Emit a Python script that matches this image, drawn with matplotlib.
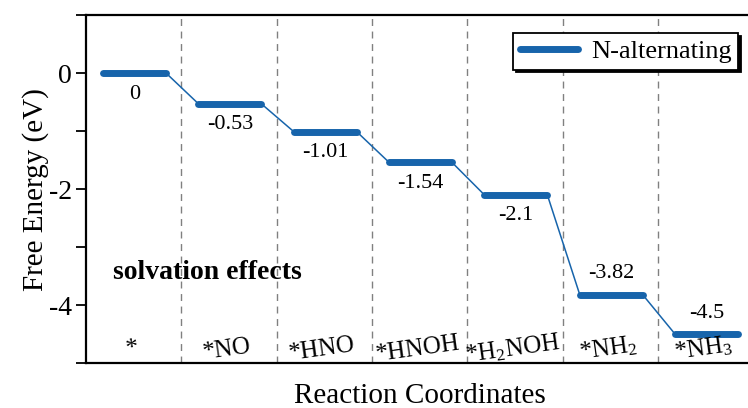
import matplotlib
matplotlib.use('Agg')
import matplotlib.pyplot as plt
from matplotlib.ticker import MultipleLocator

plt.rcParams['font.family'] = ['Liberation Serif', 'DejaVu Serif']
plt.rcParams['mathtext.fontset'] = 'custom'
plt.rcParams['mathtext.rm'] = 'Liberation Serif'
plt.rcParams['mathtext.it'] = 'Liberation Serif:italic'
plt.rcParams['axes.unicode_minus'] = False

# datos del diagrama
especies = ['*', '*NO', '*HNO', '*HNOH', r'*H$_\mathrm{2}$NOH', r'*NH$_\mathrm{2}$', r'*NH$_\mathrm{3}$']
energias = [0, -0.53, -1.01, -1.54, -2.1, -3.82, -4.5]
etiquetas = ['0', '-0.53', '-1.01', '-1.54', '-2.1', '-3.82', '-4.5']
arriba = [False, False, False, False, False, True, True]

azul = '#1764ab'
fig = plt.figure(figsize=(7.48, 4.08), dpi=100)
ax = fig.add_axes([0.115, 0.110, 0.892, 0.853])

x0, x1 = 0.18, 0.84
for i, e in enumerate(energias):
    ax.plot([i + x0, i + x1], [e, e], color=azul, lw=5, solid_capstyle='round',
            label='N-alternating' if i == 0 else None)
    if i < len(energias) - 1:
        ax.plot([i + x1, i + 1 + x0], [e, energias[i + 1]], color=azul, lw=1.1)
    dy = 21 if arriba[i] else -21
    ax.annotate(etiquetas[i], (i + (x0 + x1) / 2, e), xytext=(0, dy), textcoords='offset pixels',
                ha='center', va='center', fontsize=16)
    ax.text(i + (x0 + x1) / 2 - 0.03, -4.76, especies[i], ha='center', va='center',
            fontsize=18, rotation=8)

for k in range(1, len(energias)):
    ax.axvline(k, color='#808080', ls=(0, (5, 4)), lw=1.0, zorder=0)

ax.text(0.28, -3.44, 'solvation effects', fontsize=20, fontweight='bold', ha='left', va='center')

ax.set_xlim(0, 7)
ax.set_ylim(-5, 1)
ax.set_xticks([])
ax.yaxis.set_major_locator(MultipleLocator(2))
ax.yaxis.set_minor_locator(MultipleLocator(1))
ax.tick_params(axis='y', which='major', direction='out', length=7, width=1.3, labelsize=20, pad=3)
ax.tick_params(axis='y', which='minor', direction='out', length=7, width=1.3)
for s in ax.spines.values():
    s.set_linewidth(1.6)

ax.set_ylabel('Free Energy (eV)', fontsize=21, labelpad=0)
ax.set_xlabel('Reaction Coordinates', fontsize=21, labelpad=14)

leg = ax.legend(loc='upper right', bbox_to_anchor=(738 / 748, 1 - 33 / 408),
                bbox_transform=fig.transFigure, borderaxespad=0, fontsize=19,
                fancybox=False, shadow={'color': 'black', 'alpha': 1},
                edgecolor='black', framealpha=1,
                handlelength=2.2, handletextpad=0.5, borderpad=0.25)
leg.get_frame().set_linewidth(1.3)

fig.savefig('out.png', dpi=100)
